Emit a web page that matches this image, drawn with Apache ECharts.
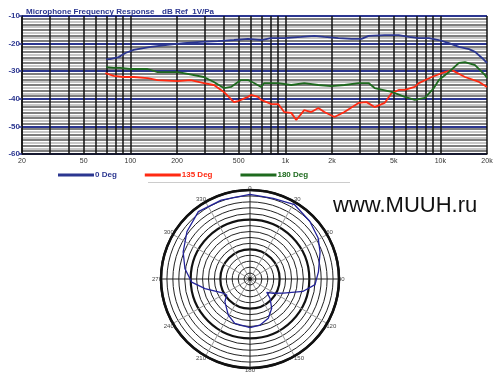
<!DOCTYPE html>
<html><head><meta charset="utf-8">
<script src="https://cdn.jsdelivr.net/npm/echarts@6/dist/echarts.min.js"></script>
<style>html,body{margin:0;padding:0;background:#fff}#c{width:500px;height:384px}</style>
</head><body><div id="c"></div>
<script>
// ---- frequency response data (Hz, dB re 1V/Pa) ----
const freqBlue = [70,74,84,93,105,135,174,221,285,367,466,574,698,809,983,1267,1538,1786,2200,2672,3100,3445,4372,5383,6254,7260,8425,9785,11360,13190,15310,16750,18580,20000];
const dbBlue = [-25.6,-25.6,-24.9,-23.4,-22.3,-21.2,-20.5,-19.8,-19.4,-19.1,-18.7,-18.3,-18.7,-18.0,-18.0,-17.6,-17.2,-17.6,-18.0,-18.3,-18.3,-17.2,-16.9,-16.9,-17.6,-18.0,-18.0,-18.7,-19.8,-21.2,-22.0,-23.0,-25.2,-27.0];
const freqRed = [69,78,90,105,129,150,202,245,298,346,401,466,495,517,574,601,667,698,809,899,983,1092,1176,1324,1470,1633,1786,2074,2405,2966,3342,3766,4372,4853,5383,5891,6842,7260,8812,10700,11880,14420,17780,20000];
const dbRed = [-30.7,-31.7,-32.1,-32.1,-32.5,-33.2,-33.6,-33.2,-34.3,-35.0,-37.5,-41.2,-40.8,-40.4,-39.3,-38.6,-39.3,-40.4,-41.9,-41.9,-44.8,-45.1,-47.7,-44.1,-44.8,-43.3,-44.8,-46.6,-44.8,-41.5,-41.2,-43.0,-41.5,-37.9,-36.8,-36.8,-35.7,-34.3,-32.1,-30.3,-29.6,-32.1,-33.9,-35.7];
const freqGreen = [70,78,86,100,129,150,202,221,298,346,401,446,517,574,628,698,729,899,1092,1324,1633,1982,2405,2966,3445,3766,4853,5891,6842,7943,9080,9785,11360,13190,14420,16750,19440,20000];
const dbGreen = [-28.5,-28.8,-28.8,-29.2,-29.2,-30.3,-30.3,-30.7,-32.1,-33.9,-36.1,-35.7,-33.2,-33.2,-34.3,-35.7,-34.3,-34.3,-35.0,-34.3,-35.0,-35.4,-35.0,-34.3,-34.3,-36.1,-37.5,-39.3,-40.4,-39.7,-36.1,-33.2,-30.3,-27.0,-26.7,-27.8,-31.4,-32.5];
const seriesNames = ['0 Deg','135 Deg','180 Deg'];

// ---- axis ticks / labels ----
const xTickValues = [20,50,100,200,500,1000,2000,5000,10000,20000];
const xTickLabels = ['20','50','100','200','500','1k','2k','5k','10k','20k'];
const xGridValues = [20,30,40,50,60,70,80,90,100,200,300,400,500,600,700,800,900,1000,2000,3000,4000,5000,6000,7000,8000,9000,10000,20000];
const yTickLabels = ['-60','-50','-40','-30','-20','-10'];

// ---- polar pattern data (angle deg, dB) ----
const polarAngles = [0,16,31,46,59,69,84,95,103,113,121.5,128.5,134,143.5,155,168,180,199,211,228,235.5,242,258,267,279,292,307,322.5,340,360];
const polarDb = [-1.5,-1.7,-0.8,-2.0,-3.2,-4.7,-6.8,-8.0,-11.6,-17.8,-20.8,-22.8,-20.6,-17.7,-15.4,-14.1,-13.6,-14.2,-15.8,-18.6,-20.5,-19.8,-14.5,-10.3,-7.8,-5.7,-3.4,-1.4,-1.7,-1.5];
const angleLabels = ['0','30','60','90','120','150','180','210','240','270','300','330'];

const NAVY = '#2b3690', RED = '#ff2a12', GREEN = '#1e6a1e';
const zip = (a, b) => a.map((v, i) => [v, b[i]]);

const minorColors = [NAVY,'#555','#b4b4b4','#555','#b4b4b4','#555','#b4b4b4','#555','#b4b4b4','#555'];

const chart = echarts.init(document.getElementById('c'), null, {renderer: 'canvas'});
chart.setOption({
  animation: false,
  backgroundColor: '#fff',
  textStyle: {fontFamily: 'Liberation Sans, Arial, sans-serif'},
  title: [
    {text: 'Microphone Frequency Response', left: 21, top: 3, textStyle: {fontSize: 8, fontWeight: 'bold', color: NAVY}},
    {text: 'dB Ref  1V/Pa', left: 157, top: 3, textStyle: {fontSize: 8, fontWeight: 'bold', color: NAVY}}
  ],
  legend: {
    data: [
      {name: seriesNames[0], textStyle: {color: NAVY}},
      {name: seriesNames[1], textStyle: {color: RED}},
      {name: seriesNames[2], textStyle: {color: GREEN}}
    ],
    left: 53, top: 166, icon: 'rect', itemWidth: 36, itemHeight: 3, itemGap: 28,
    textStyle: {fontSize: 8, fontWeight: 'bold', padding: [0, 0, 0, -4]}
  },
  grid: {left: 22, top: 16, width: 465, height: 138},
  xAxis: {
    type: 'log', logBase: 10, min: 20, max: 20000,
    axisLine: {show: true, lineStyle: {color: '#111', width: 1.5}},
    axisTick: {show: false, customValues: xGridValues},
    splitLine: {show: true, lineStyle: {color: '#111', width: 1.5}},
    axisLabel: {customValues: xTickValues, fontSize: 7, color: '#333', margin: 4,
      formatter: v => { const i = xTickValues.indexOf(Math.round(v)); return i >= 0 ? xTickLabels[i] : ''; }}
  },
  yAxis: [
    {type: 'value', min: -60, max: -10, interval: 1,
      axisLine: {show: false}, axisTick: {show: false}, axisLabel: {show: false},
      splitLine: {show: true, lineStyle: {color: minorColors, width: 1.6}}},
    {type: 'value', min: -60, max: -10, interval: 10, position: 'left',
      axisLine: {show: true, lineStyle: {color: '#111', width: 1.5}},
      axisTick: {show: true, length: 3, lineStyle: {color: NAVY, width: 1.5}},
      axisLabel: {fontSize: 8, fontWeight: 'bold', color: NAVY, margin: 2,
        formatter: v => yTickLabels[Math.round((v + 60) / 10)]},
      splitLine: {show: true, lineStyle: {color: NAVY, width: 2}}}
  ],
  polar: {center: [250, 279], radius: 89},
  angleAxis: {
    type: 'value', min: 0, max: 360, interval: 30, startAngle: 90, clockwise: true,
    axisLine: {show: true, lineStyle: {color: '#111', width: 2.5}},
    axisTick: {show: false},
    axisLabel: {fontSize: 6, color: '#444', margin: -1,
      formatter: v => { const i = Math.round(v / 30); return i < 12 ? angleLabels[i] : ''; }},
    splitLine: {show: true, lineStyle: {color: ['#222','#999','#999'], width: 1}}
  },
  radiusAxis: {
    type: 'value', min: -30, max: 0, interval: 10,
    axisLine: {show: false}, axisTick: {show: false}, axisLabel: {show: false},
    splitLine: {show: true, lineStyle: {color: '#111', width: 2.2}},
    minorTick: {show: false, splitNumber: 5},
    minorSplitLine: {show: true, lineStyle: {color: '#222', width: 1}}
  },
  graphic: [
    {type: 'line', shape: {x1: 148, y1: 182.5, x2: 350, y2: 182.5}, style: {stroke: '#ccc', lineWidth: 1}},
    {type: 'circle', shape: {cx: 250, cy: 279, r: 2}, style: {fill: '#111'}, z: 10},
    {type: 'text', left: 333, top: 195, style: {text: 'www.MUUH.ru', fontSize: 22, fontFamily: 'Liberation Sans, Arial, sans-serif', fill: '#111'}}
  ],
  series: [
    {name: seriesNames[0], type: 'line', xAxisIndex: 0, yAxisIndex: 1, data: zip(freqBlue, dbBlue), showSymbol: false, lineStyle: {color: NAVY, width: 1.8}, itemStyle: {color: NAVY}, z: 5},
    {name: seriesNames[1], type: 'line', xAxisIndex: 0, yAxisIndex: 1, data: zip(freqRed, dbRed), showSymbol: false, lineStyle: {color: RED, width: 1.8}, itemStyle: {color: RED}, z: 5},
    {name: seriesNames[2], type: 'line', xAxisIndex: 0, yAxisIndex: 1, data: zip(freqGreen, dbGreen), showSymbol: false, lineStyle: {color: GREEN, width: 1.8}, itemStyle: {color: GREEN}, z: 5},
    {type: 'line', coordinateSystem: 'polar', data: zip(polarDb, polarAngles), showSymbol: false, lineStyle: {color: '#23239a', width: 1.3}, z: 5}
  ]
});
</script></body></html>
